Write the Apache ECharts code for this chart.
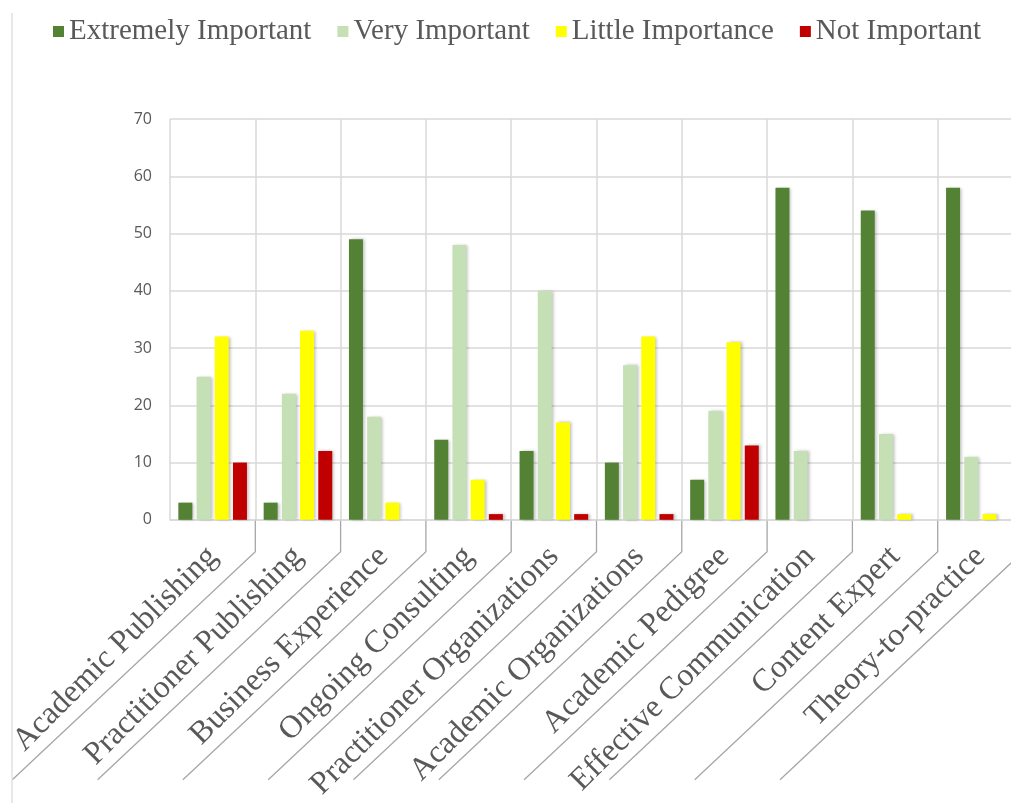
<!DOCTYPE html>
<html>
<head>
<meta charset="utf-8">
<title>Importance ratings</title>
<script src="https://cdn.jsdelivr.net/npm/echarts@6/dist/echarts.min.js"></script>
<style>
  html, body { margin: 0; padding: 0; background: #fff; overflow: hidden; }
  /* the original picture is cropped on the right, so the chart is a bit wider than the page */
  #chart { width: 1023px; height: 803px; }
</style>
</head>
<body>
<div id="chart"></div>
<script>
const categories = [
  'Academic Publishing',
  'Practitioner Publishing',
  'Business Experience',
  'Ongoing Consulting',
  'Practitioner Organizations',
  'Academic Organizations',
  'Academic Pedigree',
  'Effective Communication',
  'Content Expert',
  'Theory-to-practice'
];

const extremelyImportant = [3, 3, 49, 14, 12, 10, 7, 58, 54, 58];
const veryImportant = [25, 22, 18, 48, 40, 27, 19, 12, 15, 11];
const littleImportance = [32, 33, 3, 7, 17, 32, 31, 0, 1, 1];
const notImportant = [10, 12, 0, 1, 1, 1, 13, 0, 0, 0];

const seriesNames = ['Extremely Important', 'Very Important', 'Little Importance', 'Not Important'];
const seriesColors = ['#548235', '#c5e0b4', '#ffff00', '#c00000'];
const seriesData = [extremelyImportant, veryImportant, littleImportance, notImportant];

const yTicks = { min: 0, max: 70, interval: 10 };

const chart = echarts.init(document.getElementById('chart'));

const option = {
  animation: false,
  legend: {
    top: 12,
    left: 48,
    icon: 'rect',
    itemWidth: 11,
    itemHeight: 11,
    itemGap: 26,
    textStyle: {
      fontFamily: 'Liberation Serif',
      fontSize: 29,
      color: '#595959'
    },
    data: seriesNames
  },
  grid: {
    left: 170,
    top: 119,
    right: 0,
    height: 401
  },
  xAxis: {
    type: 'category',
    data: categories,
    axisLine: { lineStyle: { color: '#d9d9d9', width: 1.5 } },
    axisTick: { show: false },
    splitLine: { show: true, lineStyle: { color: '#d9d9d9', width: 1.5 } },
    axisLabel: {
      interval: 0,
      rotate: 45,
      margin: 32,
      fontFamily: 'Liberation Serif',
      fontSize: 32,
      color: '#595959'
    }
  },
  yAxis: {
    type: 'value',
    min: yTicks.min,
    max: yTicks.max,
    interval: yTicks.interval,
    axisLine: { show: false },
    axisTick: { show: false },
    splitLine: { lineStyle: { color: '#d9d9d9', width: 1.5 } },
    axisLabel: {
      margin: 18,
      fontFamily: 'Open Sans',
      fontSize: 16,
      color: '#595959'
    }
  },
  series: seriesNames.map((name, i) => ({
    name: name,
    type: 'bar',
    data: seriesData[i],
    barWidth: 14,
    barGap: '30%',
    itemStyle: {
      color: seriesColors[i],
      shadowColor: 'rgba(0,0,0,0.25)',
      shadowBlur: 3,
      shadowOffsetX: 2
    }
  }))
};

chart.setOption(option);

// Excel-style label borders: short tick down from each category boundary, then a slanted line
const c0 = chart.convertToPixel({ xAxisIndex: 0 }, 0);
const c1 = chart.convertToPixel({ xAxisIndex: 0 }, 1);
const band = c1 - c0;
const axisY = chart.convertToPixel({ yAxisIndex: 0 }, 0);
const graphics = [];
for (let i = 0; i < categories.length; i++) {
  const bx = chart.convertToPixel({ xAxisIndex: 0 }, i) + band / 2;
  graphics.push({
    type: 'polyline',
    silent: true,
    shape: { points: [[bx, axisY], [bx, axisY + 32], [bx - 243, axisY + 260]] },
    style: { stroke: '#a6a6a6', lineWidth: 1.3, fill: null }
  });
}
// thin chart border on the left
graphics.push({
  type: 'line',
  silent: true,
  shape: { x1: 12, y1: 13, x2: 12, y2: 803 },
  style: { stroke: '#e0e0e0', lineWidth: 1.5 }
});
chart.setOption({ graphic: graphics });
</script>
</body>
</html>
